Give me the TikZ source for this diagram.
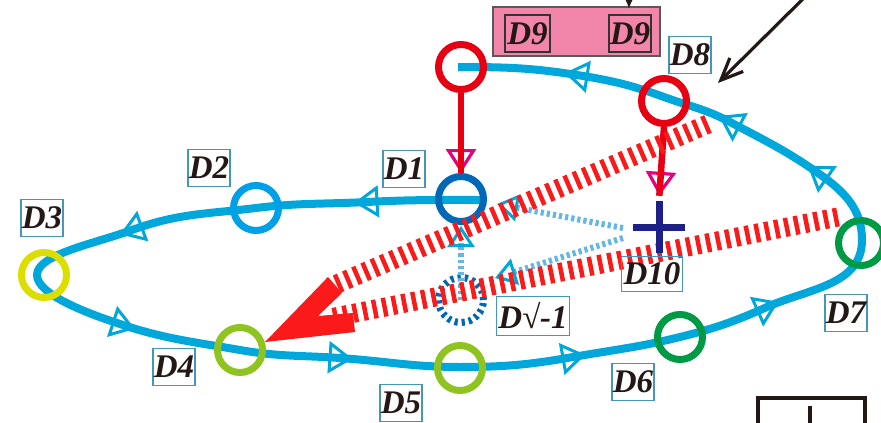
\documentclass[tikz,border=0pt]{standalone}
\usepackage{fontspec}
\setmainfont{Liberation Serif}
\usetikzlibrary{arrows.meta,calc}
\definecolor{curvec}{RGB}{0,167,219}
\definecolor{ltblue}{RGB}{0,160,233}
\definecolor{dkblue}{RGB}{0,104,183}
\definecolor{redc}{RGB}{230,0,18}
\definecolor{yelc}{RGB}{220,222,0}
\definecolor{ygrc}{RGB}{143,195,31}
\definecolor{grnc}{RGB}{0,153,68}
\definecolor{magc}{RGB}{228,0,127}
\definecolor{hatchc}{RGB}{250,26,26}
\definecolor{plusc}{RGB}{29,32,136}
\definecolor{dotc}{RGB}{100,182,230}
\definecolor{lblc}{RGB}{70,150,185}
\definecolor{pinkc}{RGB}{242,133,170}
\definecolor{txtc}{RGB}{35,24,21}
\newcommand\lblfont{\fontsize{33}{33}\selectfont\bfseries\itshape}
\begin{document}
\begin{tikzpicture}[x=1pt,y=1pt,
  ring/.style={circle, draw=#1, line width=7pt, minimum size=45pt, inner sep=0pt},
  dring/.style={ring=#1, dash pattern=on 3.2pt off 3.9pt},
  lbl/.style={draw=lblc, line width=1.1pt, inner sep=0pt, minimum width=42pt, minimum height=37pt, font=\lblfont, text=txtc},
  d9box/.style={draw=black!80, line width=1.4pt, inner sep=0pt, minimum height=37pt, font=\lblfont, text=txtc},
  curve/.style={draw=curvec, line width=8pt},
  tri/.pic={\draw[curvec, line width=3pt] (10,0) -- (-10,13.5) -- (-10,-13.5) -- cycle;},
  redln/.style={draw=redc, line width=6.5pt},
  magtip/.style={draw=magc, line width=3pt, -{Triangle[open, length=24pt, width=30pt, line width=3.2pt, color=magc]}},
  dotln/.style={draw=dotc, line width=6pt, dash pattern=on 3.2pt off 3pt, shorten >=17pt},
  tipln/.style={draw=curvec, line width=3pt, -{Triangle[open, length=21pt, width=27pt, line width=3pt]}},
  hatch/.style={draw=hatchc, line width=19pt, dash pattern=on 4.5pt off 5.5pt},
  blk/.style={draw=txtc, line width=3.2pt}
]
\useasboundingbox (0,0) rectangle (881,-423);
% spiral curve
\draw[curve] (480,-200) to[out=180,in=3] (367,-202)
  to[out=183,in=7] (256,-208)
  to[out=187,in=20] (132,-230)
  to[out=200,in=90,in looseness=0.5] (37,-275)
  to[out=270,in=162,out looseness=0.5] (123,-325)
  to[out=342,in=170] (240,-350)
  to[out=350,in=176] (340,-358)
  to[out=356,in=180] (460,-367)
  to[out=0,in=190] (573,-357)
  to[out=10,in=194] (680,-337)
  to[out=14,in=204] (767,-307)
  to[out=24,in=270] (862,-240)
  to[out=90,in=325] (818,-173)
  to[out=145,in=332] (730,-122)
  to[out=152,in=340] (664,-97)
  to[out=160,in=351] (577,-75)
  to[out=171,in=0] (458,-67);
\pic[rotate=183] at (367,-202) {tri};
\pic[rotate=200] at (132,-230) {tri};
\pic[rotate=342] at (123,-325) {tri};
\pic[rotate=356] at (340,-358) {tri};
\pic[rotate=10] at (573,-357) {tri};
\pic[rotate=24] at (767,-307) {tri};
\pic[rotate=145] at (818,-173) {tri};
\pic[rotate=152] at (730,-122) {tri};
\pic[rotate=171] at (577,-75) {tri};
% circles
\node[ring=redc] (c9) at (461,-67) {};
\node[ring=redc] (c8) at (664,-101) {};
\node[ring=dkblue] (c1) at (461,-199) {};
\node[ring=ltblue] (c2) at (256,-208) {};
\node[ring=yelc] (c3) at (44,-275) {};
\node[ring=ygrc] (c4) at (240,-350) {};
\node[ring=ygrc] (c5) at (460,-368) {};
\node[ring=grnc] (c6) at (680,-337) {};
\node[ring=grnc] (c7) at (861,-243) {};
\node[dring=dkblue] (cds) at (461,-300) {};
\node[inner sep=0pt, minimum size=52pt] (p10) at (659,-227) {};
% dotted connectors
\coordinate (d10u) at (623,-228);
\coordinate (d10l) at (623,-238);
\coordinate (tipu) at ($(c1.east)+(10pt,-5pt)$);
\coordinate (dsqtip) at (495,-278);
\coordinate (tipv) at ($(c1.south)+(0,-1pt)$);
\draw[dotln] (d10u) -- (tipu);
\draw[tipln] ($(tipu)!21pt!(d10u)$) -- (tipu);
\draw[dotln] (d10l) -- (dsqtip);
\draw[tipln] ($(dsqtip)!21pt!(d10l)$) -- (dsqtip);
\draw[dotln] (cds.center) -- (tipv);
\draw[tipln] ($(tipv)!21pt!(cds.center)$) -- (tipv);
% red arrows
\draw[magtip] (c9.south) -- (c1.north);
\draw[redln] (c9.south) -- (c1.north);
\draw[magtip, shorten >=5pt] (c8.south) -- (p10.north);
\draw[redln, shorten >=5pt] (c8.south) -- (p10.north);
% hatched bands
\coordinate (h1s) at (708,-124);
\coordinate (h1e) at (330,-287);
\coordinate (h2s) at (838,-217);
\coordinate (h2e) at (330,-318);
\draw[hatch] (h1s) -- (h1e);
\draw[hatch] (h2s) -- (h2e);
\fill[hatchc] (265,-342) -- (328,-277) -- (342,-293) -- (318,-316) -- (353,-313) -- (355,-332) -- cycle;
% plus
\draw[plusc, line width=7pt] (p10.north) -- (p10.south) (p10.west) -- (p10.east);
% labels
\node[lbl] (l1) at (404,-169) {D1};
\node[lbl] (l2) at (209,-168) {D2};
\node[lbl] (l3) at (42,-218) {D3};
\node[lbl] (l4) at (174,-367) {D4};
\node[lbl] (l5) at (401,-403) {D5};
\node[lbl] (l6) at (633,-382) {D6};
\node[lbl] (l7) at (846,-313) {D7};
\node[lbl] (l8) at (690,-55) {D8};
\node[lbl, minimum width=61pt, minimum height=35pt] (l10) at (652,-274) {D10};
\node[lbl, minimum width=73pt, minimum height=39pt] (lsq) at (533,-316) {D√-1};
% pink box
\node[draw=black!65, line width=1.6pt, fill=pinkc, minimum width=167pt, minimum height=49pt, inner sep=0pt] (pink) at (576.5,-31.5) {};
\node[d9box, minimum width=45pt] (d9a) at (527.5,-33.5) {D9};
\node[d9box, minimum width=42pt] (d9b) at (630,-33.5) {D9};
% black arrows
\coordinate (tin) at (629,20);
\draw[blk, -{Latex[length=11pt, width=9pt]}, shorten >=-3pt] (tin) -- (pink.north -| tin);
\coordinate (trs) at (814,12);
\coordinate (tre) at (718,-83);
\draw[blk, -{Straight Barb[length=22pt, width=19pt, line width=3.2pt]}] (trs) -- (tre);
% partial box bottom right
\draw[blk, line width=4.5pt] (758,-440) -- (758,-398) -- (865,-398) -- (865,-440);
\draw[blk, line width=4.5pt] (810,-406) -- (810,-440);
\end{tikzpicture}
\end{document}
